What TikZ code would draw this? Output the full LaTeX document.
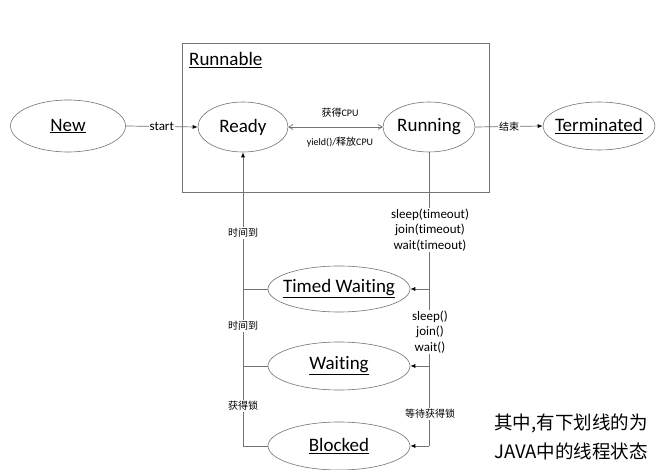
\documentclass[tikz,border=0pt]{standalone}
\usepackage{fontspec}
\setmainfont{Carlito}[Ligatures={NoCommon}]
\newfontfamily\cjk{Noto Sans CJK SC}
\usetikzlibrary{shapes.geometric,arrows.meta}
\newcommand{\zb}[1]{\makebox[0pt]{#1}}
\begin{document}
\begin{tikzpicture}[x=1pt,y=-1pt,
  state/.style={ellipse,draw=black!55,line width=0.6pt,inner sep=0pt,font=\fontsize{19}{22}\selectfont},
  conn/.style={draw=black!55,line width=0.7pt},
  tip/.style={-{Latex[length=5pt,width=4pt,black]}},
  lbl/.style={fill=white,inner sep=1pt,font=\fontsize{10}{12}\selectfont\cjk},
  mlbl/.style={fill=white,inner sep=1pt,align=center,font=\fontsize{13}{15.5}\selectfont}]
\useasboundingbox (0,0) rectangle (662,470);
\fill[white] (0,0) rectangle (662,470);
% Runnable box
\node[draw=black!55,line width=0.7pt,minimum width=307pt,minimum height=149pt,inner sep=0pt] (box) at (335.5,117.5) {};
\node[anchor=west,inner sep=0pt,font=\fontsize{19}{22}\selectfont] (runnable) at (189,60) {\underline{Runnable}};
% states
\node[state,minimum width=115pt,minimum height=52pt] (new) at (68,126) {\zb{\underline{New}}};
\node[state,minimum width=90pt,minimum height=50pt] (ready) at (243,127) {\zb{Ready}};
\node[state,minimum width=92pt,minimum height=50pt] (running) at (429,127) {\zb{Running}};
\node[state,minimum width=112pt,minimum height=48pt] (term) at (599,126) {\zb{\underline{Terminated}}};
\node[state,minimum width=142pt,minimum height=46pt] (tw) at (339,289) {\zb{\underline{Timed Waiting}}};
\node[state,minimum width=142pt,minimum height=48pt] (wait) at (339,366) {\zb{\underline{Waiting}}};
\node[state,minimum width=142pt,minimum height=48pt] (blk) at (339,446) {\zb{\underline{Blocked}}};
% New -> Ready
\draw[conn,tip] (new.east) -- node[fill=white,inner sep=1pt,font=\fontsize{13}{15}\selectfont] (lstart) {start} (ready.west);
% Running -> Terminated
\draw[conn,tip] (running.east) -- node[lbl] (lend) {结束} (term.west);
% Ready <-> Running
\draw[conn,{Straight Barb[length=4pt,width=5pt]}-{Straight Barb[length=4pt,width=5pt]}] (ready.east) -- (running.west);
\node[lbl,fill=none] (lget) at (340,113) {获得{\fontspec{Carlito}CPU}};
\node[lbl,fill=none] (lyield) at (340,142) {{\fontspec{Carlito}yield()/}释放{\fontspec{Carlito}CPU}};
% right side
\coordinate (rb) at (running.south |- blk.east);
\draw[conn] (running.south) -- (rb);
\draw[conn,tip] (running.south |- tw.east) -- (tw.east);
\draw[conn,tip] (running.south |- wait.east) -- (wait.east);
\draw[conn,tip] (rb) -- (blk.east);
\node[mlbl] (l1) at (430,230) {sleep(timeout)\\join(timeout)\\wait(timeout)};
\node[mlbl] (l2) at (430,332) {sleep()\\join()\\wait()};
\node[lbl] (l3) at (430,414) {等待获得锁};
% left side
\coordinate (lb) at (ready.south |- blk.west);
\draw[conn,tip] (lb) -- (ready.south);
\draw[conn] (tw.west) -- (ready.south |- tw.west);
\draw[conn] (wait.west) -- (ready.south |- wait.west);
\draw[conn] (blk.west) -- (lb);
\node[lbl] (l4) at (243,233) {时间到};
\node[lbl] (l5) at (243,326) {时间到};
\node[lbl] (l6) at (243,406) {获得锁};
% note
\node[align=center,inner sep=0pt,font=\fontsize{18.5}{29}\selectfont\cjk] (note) at (571,437) {其中,有下划线的为\\JAVA中的线程状态};
\end{tikzpicture}
\end{document}
